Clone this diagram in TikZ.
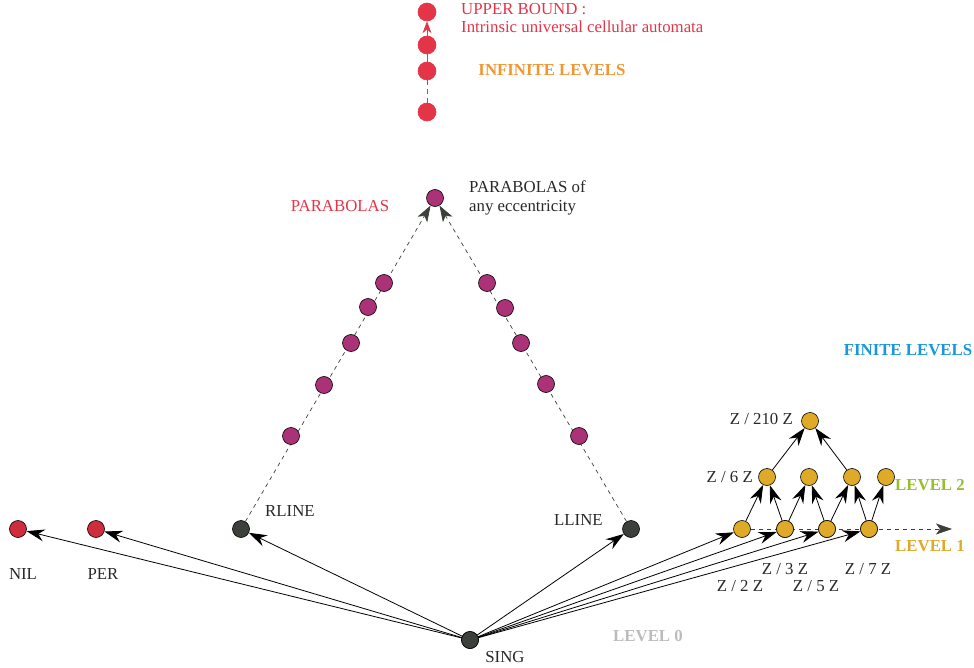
\documentclass[tikz,border=0pt]{standalone}
\usepackage{fontspec}
\setmainfont{Liberation Serif}
\usetikzlibrary{arrows.meta}
\definecolor{cred}{RGB}{228,52,72}
\definecolor{dred}{RGB}{205,45,60}
\definecolor{cpurple}{RGB}{172,50,120}
\definecolor{cdark}{RGB}{60,64,58}
\definecolor{cyellow}{RGB}{222,170,40}
\definecolor{corange}{RGB}{240,150,50}
\definecolor{cblue}{RGB}{25,150,220}
\definecolor{cgreen}{RGB}{150,190,45}
\definecolor{cgray}{RGB}{190,188,186}
\definecolor{ctext}{RGB}{40,40,40}
\tikzset{
  dot/.style={circle,draw=black,line width=0.6pt,minimum size=17pt,inner sep=0pt},
  reddot/.style={dot,fill=cred,draw=cred,minimum size=18pt},
  nildot/.style={dot,fill=dred},
  purdot/.style={dot,fill=cpurple},
  darkdot/.style={dot,fill=cdark},
  yeldot/.style={dot,fill=cyellow},
  lbl/.style={font=\fontsize{16.8}{18.5}\selectfont,text=ctext,inner sep=0pt},
  blbl/.style={font=\fontsize{16.8}{18.5}\selectfont\bfseries,inner sep=0pt},
  arr/.style={-{Stealth[length=18pt,width=12pt,inset=6pt]},line width=0.8pt,black},
  darr/.style={-{Stealth[length=16pt,width=11pt,inset=4pt]},line width=0.7pt,cdark,dash pattern=on 4pt off 4pt},
}
\begin{document}
\begin{tikzpicture}[x=1pt,y=-1pt]
\useasboundingbox (0,0) rectangle (974,668);
% top red chain
\node[reddot] (u1) at (427,12) {};
\node[reddot] (u2) at (427,45) {};
\node[reddot] (u3) at (427,71) {};
\node[reddot] (u4) at (427,112) {};
\draw[cred,line width=0.8pt,dash pattern=on 5pt off 4pt] (u4) -- (u3);
\draw[cred,line width=0.8pt] (u3) -- (u2);
\draw[cred,line width=0.8pt,-{Stealth[length=12pt,width=9pt]}] (u2) -- (u1);
\node[lbl,text=cred,anchor=west,align=left] (ub) at (461,18) {UPPER BOUND :\\Intrinsic universal cellular automata};
\node[blbl,text=corange] (inf) at (552,70) {INFINITE LEVELS};
% parabolas
\node[purdot] (apex) at (435,198) {};
\node[lbl,text=cred] (parl) at (340,206) {PARABOLAS};
\node[lbl,anchor=west,align=left] (parr) at (469,198) {PARABOLAS of\\any eccentricity};
\node[darkdot] (rline) at (241,529) {};
\node[darkdot] (lline) at (631,529) {};
\draw[darr] (rline) -- (apex);
\draw[darr] (lline) -- (apex);
\node[purdot] (l1) at (384,283) {};
\node[purdot] (l2) at (368,307) {};
\node[purdot] (l3) at (351,343) {};
\node[purdot] (l4) at (324,385) {};
\node[purdot] (l5) at (291,436) {};
\node[purdot] (r1) at (487,283) {};
\node[purdot] (r2) at (505,308) {};
\node[purdot] (r3) at (521,343) {};
\node[purdot] (r4) at (546,384) {};
\node[purdot] (r5) at (579,436) {};
\node[lbl,anchor=west] (rl) at (265,511) {RLINE};
\node[lbl,anchor=west] (ll) at (554,520) {LLINE};
% left
\node[nildot] (nil) at (18,529) {};
\node[nildot] (per) at (96,529) {};
\node[lbl] (nill) at (23,574) {NIL};
\node[lbl] (perl) at (103,574) {PER};
% sing
\node[darkdot] (sing) at (470,640) {};
\node[lbl] (singl) at (505,657) {SING};
\node[blbl,text=cgray] (lv0) at (648,636) {LEVEL 0};
% finite levels
\node[yeldot] (a1) at (742,529) {};
\node[yeldot] (a2) at (785,529) {};
\node[yeldot] (a3) at (827,529) {};
\node[yeldot] (a4) at (869,529) {};
\node[yeldot] (b1) at (767,477) {};
\node[yeldot] (b2) at (809,477) {};
\node[yeldot] (b3) at (852,477) {};
\node[yeldot] (b4) at (886,477) {};
\node[yeldot] (c1) at (810,421) {};
\coordinate (lvend) at (952,529);
\draw[darr] (a1.east) -- (lvend);
\foreach \n in {a2,a3,a4} \node[yeldot] at (\n) {};
\foreach \s/\t in {a1/b1,a2/b1,a2/b2,a3/b2,a3/b3,a4/b3,a4/b4,b1/c1,b3/c1}
  \draw[arr] (\s) -- (\t);
\foreach \t in {nil,per,rline,lline,a1,a2,a3,a4}
  \draw[arr] (sing.center) -- (\t);
\node[darkdot] at (sing) {};
\node[lbl,anchor=east] (t210) at (793,419) {Z / 210 Z};
\node[lbl,anchor=east] (t6) at (753,477) {Z / 6 Z};
\node[lbl] (t3) at (785,569) {Z / 3 Z};
\node[lbl] (t7) at (868,569) {Z / 7 Z};
\node[lbl] (t2) at (740,586) {Z / 2 Z};
\node[lbl] (t5) at (816,586) {Z / 5 Z};
\node[blbl,text=cgreen] (lv2) at (930,485) {LEVEL 2};
\node[blbl,text=cyellow] (lv1) at (930,546) {LEVEL 1};
\node[blbl,text=cblue] (fin) at (908,350) {FINITE LEVELS};
\end{tikzpicture}
\end{document}
